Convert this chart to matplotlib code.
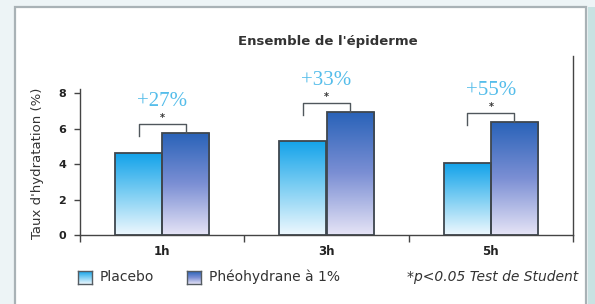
import numpy as np
import matplotlib
matplotlib.use("Agg")
import matplotlib.pyplot as plt
from matplotlib.colors import LinearSegmentedColormap
from matplotlib.patches import Rectangle
import matplotlib.transforms as mtransforms

plt.rcParams['font.family'] = ['DejaVu Sans']

categories = ["1h", "3h", "5h"]
placebo = [4.6, 5.3, 4.05]
pheo = [5.75, 6.93, 6.37]
gains = ["+27%", "+33%", "+55%"]
yticks = [0, 2, 4, 6, 8]
title = "Ensemble de l'épiderme"
ylabel = "Taux d'hydratation (%)"
legend_labels = ["Placebo", "Phéohydrane à 1%"]
footnote = "*p<0.05 Test de Student"

W, H = 595, 304
fig = plt.figure(figsize=(W / 100, H / 100), dpi=100, facecolor="#edf4f6")

def fx(px):
    return px / W

def fy(py):
    return 1 - py / H

# panel
fig.patches.append(Rectangle((fx(15), fy(320)), fx(586) - fx(15), fy(7) - fy(320),
                             transform=fig.transFigure, facecolor="white",
                             edgecolor="#a9b2b6", linewidth=1.6, zorder=-2))
fig.patches.append(Rectangle((fx(588), 0), 1 - fx(588), fy(7),
                             transform=fig.transFigure, facecolor="#c8e2e2",
                             edgecolor="none", zorder=-2))

ax_left, ax_right = 80, 573
y0_px, y8_px = 235, 93
ppu = (y0_px - y8_px) / 8.0
ytop = 8.2
ax = fig.add_axes([fx(ax_left), fy(y0_px), fx(ax_right) - fx(ax_left),
                   (ytop * ppu) / H])
ax.set_facecolor("none")

cm_plac = LinearSegmentedColormap.from_list("plac", ["#eef8fe", "#7fcff3", "#12a2ea"])
cm_pheo = LinearSegmentedColormap.from_list("pheo", ["#e6e4f6", "#7b8fd4", "#2862b8"])
grad = np.linspace(0, 1, 256).reshape(-1, 1)

bw = 0.287
x = np.arange(len(categories))
edge = "#3f474e"
for vals, off, cm in [(placebo, -bw / 2, cm_plac), (pheo, bw / 2, cm_pheo)]:
    bars = ax.bar(x + off, vals, width=bw, facecolor="none", edgecolor=edge,
                  linewidth=1.3, zorder=3)
    for b in bars:
        bx, by = b.get_x(), b.get_y()
        bwid, bh = b.get_width(), b.get_height()
        im = ax.imshow(grad, cmap=cm, origin="lower", aspect="auto",
                       extent=[bx, bx + bwid, by, by + bh], zorder=2)
        im.set_clip_path(b)

ax.set_xlim(-0.5, 2.5)
ax.set_ylim(0, ytop)

# brackets
for i in range(len(categories)):
    xl = x[i] - bw / 2
    xr = x[i] + bw / 2
    top = pheo[i] + 0.5
    ax.plot([xl, xl, xr, xr], [pheo[i] - 0.15, top, top, pheo[i]],
            color="#50575c", linewidth=1.0, zorder=4)
    ax.text(x[i], top + 0.33, "*", ha="center", va="center", fontsize=7,
            color="#333333", fontweight="bold")
    ax.text(x[i], top + 0.72, gains[i], ha="center", va="bottom",
            fontsize=15, color="#55bdea", family="Liberation Serif")

# spines
for s in ["top", "right"]:
    ax.spines[s].set_visible(False)
ax.spines["left"].set_color("#444444")
ax.spines["bottom"].set_color("#444444")
ax.spines["left"].set_linewidth(1.0)
ax.spines["bottom"].set_linewidth(1.0)
trans = mtransforms.blended_transform_factory(ax.transAxes, ax.transData)
ax.plot([1, 1], [0, 10.1], transform=trans, color="#444444", linewidth=1.0,
        clip_on=False)

ax.set_yticks(yticks)
ax.set_yticklabels([str(v) for v in yticks], fontweight="bold", fontsize=8)
ax.tick_params(axis="y", direction="out", length=4, width=1, pad=6, colors="#444444",
               labelcolor="#222222")
ax.set_xticks(x)
ax.set_xticklabels(categories, fontweight="bold", fontsize=8.5)
ax.tick_params(axis="x", length=0, pad=7, labelcolor="#222222")
ax.set_xticks([-0.5, 0.5, 1.5, 2.5], minor=True)
ax.tick_params(axis="x", which="minor", direction="out", length=5, width=1,
               colors="#444444")

fig.text(fx(38), fy(163), ylabel, rotation=90, ha="center", va="center",
         fontsize=9.5, color="#333333")
fig.text(fx(328), fy(42), title, ha="center", va="center", fontsize=9.5,
         fontweight="bold", color="#333333")

# legend
for (lx, lab, cm) in [(78, legend_labels[0], cm_plac), (187, legend_labels[1], cm_pheo)]:
    lax = fig.add_axes([fx(lx), fy(284), fx(14), 13 / H])
    lax.imshow(grad, cmap=cm, origin="lower", aspect="auto", extent=[0, 1, 0, 1])
    lax.set_xticks([])
    lax.set_yticks([])
    for s in lax.spines.values():
        s.set_color("#555c62")
        s.set_linewidth(1.0)
    fig.text(fx(lx + 22), fy(277), lab, ha="left", va="center", fontsize=10,
             color="#333333")
fig.text(fx(578), fy(277), footnote, ha="right", va="center", fontsize=10,
         style="italic", color="#333333")

fig.savefig("out.png", dpi=100, facecolor=fig.get_facecolor())
